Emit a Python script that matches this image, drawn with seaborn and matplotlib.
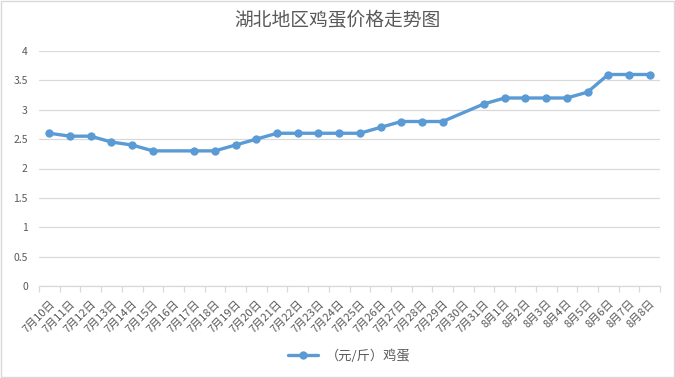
import numpy as np
import pandas as pd
import matplotlib
matplotlib.use('Agg')
import matplotlib.pyplot as plt
import seaborn as sns
from matplotlib.patches import Rectangle

# Chart data
dates = ['7月10日', '7月11日', '7月12日', '7月13日', '7月14日', '7月15日', '7月16日',
         '7月17日', '7月18日', '7月19日', '7月20日', '7月21日', '7月22日', '7月23日',
         '7月24日', '7月25日', '7月26日', '7月27日', '7月28日', '7月29日', '7月30日',
         '7月31日', '8月1日', '8月2日', '8月3日', '8月4日', '8月5日', '8月6日',
         '8月7日', '8月8日']
# None = no price recorded that day (line bridges the gap)
prices = [2.6, 2.55, 2.55, 2.45, 2.4, 2.3, None,
          2.3, 2.3, 2.4, 2.5, 2.6, 2.6, 2.6,
          2.6, 2.6, 2.7, 2.8, 2.8, 2.8, None,
          3.1, 3.2, 3.2, 3.2, 3.2, 3.3, 3.6,
          3.6, 3.6]
series_name = '（元/斤）鸡蛋'
title = '湖北地区鸡蛋价格走势图'
y_ticks = [0, 0.5, 1, 1.5, 2, 2.5, 3, 3.5, 4]

sns.set_theme(style='white')
plt.rcParams['font.family'] = ['Noto Sans CJK SC', 'DejaVu Sans']

df = pd.DataFrame({'date': dates, 'price': prices})
df['pos'] = np.arange(len(df))
df_plot = df.dropna()

text_color = '#595959'
grid_color = '#D9D9D9'
line_color = '#5B9BD5'

fig = plt.figure(figsize=(6.75, 3.78), dpi=100)
ax = fig.add_axes([39 / 675, 1 - 286 / 378, 621 / 675, 235 / 378])

sns.lineplot(data=df_plot, x='pos', y='price', ax=ax, color=line_color,
             linewidth=2.4, marker='o', markersize=6, markeredgewidth=0,
             label=series_name)

ax.set_xlim(-0.5, len(dates) - 0.5)
ax.set_ylim(0, 4)
ax.set_yticks(y_ticks)
ax.set_yticklabels([f'{v:g}' for v in y_ticks], fontsize=7.5, color=text_color)
ax.yaxis.grid(True, color=grid_color, linewidth=0.9)
ax.set_axisbelow(True)

ax.set_xticks(df['pos'])
ax.set_xticklabels(dates, rotation=45, ha='right', rotation_mode='anchor',
                   fontsize=8, color=text_color)
ax.set_xticks(np.arange(-0.5, len(dates)), minor=True)
ax.tick_params(axis='x', which='major', length=0, pad=9)
ax.tick_params(axis='x', which='minor', length=4, color=grid_color, width=0.9,
               direction='out', bottom=True)
ax.tick_params(axis='y', length=0, pad=8)
ax.set_xlabel('')
ax.set_ylabel('')

for side in ['left', 'right', 'top']:
    ax.spines[side].set_visible(False)
ax.spines['bottom'].set_color(grid_color)
ax.spines['bottom'].set_linewidth(0.9)

fig.suptitle(title, y=1 - 20 / 378, va='center', fontsize=13.5, color=text_color)

leg = ax.legend(loc='center', bbox_to_anchor=(0.5, (1 - 356 / 378 - (1 - 286 / 378)) / (235 / 378)),
                bbox_transform=ax.transAxes, frameon=False, fontsize=9.5,
                handlelength=2.3, handletextpad=0.6)
for t in leg.get_texts():
    t.set_color(text_color)

# chart border
fig.patches.append(Rectangle((0.002, 0.003), 0.996, 0.994, transform=fig.transFigure,
                             fill=False, edgecolor='#D9D9D9', linewidth=1))

fig.savefig('out.png', dpi=100)
